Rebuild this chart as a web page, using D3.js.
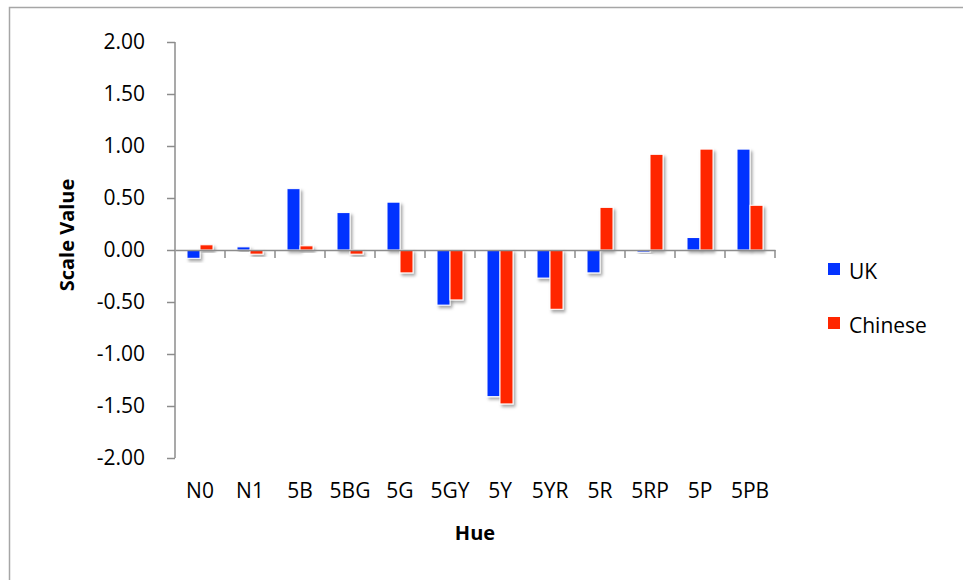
<!DOCTYPE html>
<html>
<head>
<meta charset="utf-8">
<script src="https://cdn.jsdelivr.net/npm/d3@7"></script>
<style>
  html, body { margin: 0; padding: 0; background: #fff; }
  svg { display: block; font-family: "Open Sans", "Noto Sans", sans-serif; }
</style>
</head>
<body>
<svg id="chart" width="963" height="580"></svg>
<script>
const categories = ["N0", "N1", "5B", "5BG", "5G", "5GY", "5Y", "5YR", "5R", "5RP", "5P", "5PB"];
const seriesNames = ["UK", "Chinese"];
const ukValues = [-0.08, 0.03, 0.59, 0.36, 0.46, -0.53, -1.41, -0.27, -0.22, -0.02, 0.12, 0.97];
const chineseValues = [0.05, -0.04, 0.04, -0.04, -0.22, -0.48, -1.48, -0.57, 0.41, 0.92, 0.97, 0.43];
const yTicks = [2.0, 1.5, 1.0, 0.5, 0.0, -0.5, -1.0, -1.5, -2.0];
const colors = ["#0433ff", "#ff2600"];

(function () {
const svg = d3.select("#chart");

const defs = svg.append("defs");
const f = defs.append("filter").attr("id", "shadow").attr("x", "-50%").attr("y", "-50%").attr("width", "200%").attr("height", "200%");
f.append("feDropShadow").attr("dx", 2).attr("dy", 2.5).attr("stdDeviation", 1.6)
  .attr("flood-color", "#000").attr("flood-opacity", 0.35);

svg.append("rect").attr("x", 9.5).attr("y", 7.5).attr("width", 970).attr("height", 600)
  .attr("fill", "none").attr("stroke", "#a6a6a6").attr("stroke-width", 1.5);

const pLeft = 175, pRight = 775, pTop = 42, pBottom = 458;

const x = d3.scaleBand().domain(categories).range([pLeft, pRight]).paddingInner(0).paddingOuter(0);
const y = d3.scaleLinear().domain([-2, 2]).range([pBottom, pTop]);
const groupW = 26;
const xs = d3.scaleBand().domain(seriesNames).range([0, groupW]).padding(0);

const data = categories.map((c, i) => ({ cat: c, vals: [ukValues[i], chineseValues[i]] }));

const g = svg.append("g");
data.forEach(d => {
  const cx = x(d.cat) + x.bandwidth() / 2 - groupW / 2;
  d.vals.forEach((v, j) => {
    const y0 = y(0), y1 = y(v);
    g.append("rect")
      .attr("x", cx + xs(seriesNames[j]))
      .attr("y", Math.min(y0, y1))
      .attr("width", xs.bandwidth())
      .attr("height", Math.max(1, Math.abs(y1 - y0)))
      .attr("fill", colors[j])
      .attr("stroke", "#fff")
      .attr("stroke-width", 1)
      .attr("filter", "url(#shadow)");
  });
});

const axisColor = "#8c8c8c";

const yAxis = svg.append("g").attr("transform", `translate(${pLeft},0)`)
  .call(d3.axisLeft(y).tickValues(yTicks).tickFormat(d3.format(".2f")).tickSize(8).tickPadding(22));
yAxis.select(".domain").attr("stroke", axisColor).attr("stroke-width", 1.5).attr("d", `M0,${pTop}V${pBottom}`);
yAxis.selectAll(".tick line").attr("stroke", axisColor).attr("stroke-width", 1.5);
yAxis.selectAll(".tick text").attr("font-size", 21).attr("fill", "#000")
  .attr("font-family", "'Open Sans', sans-serif").text(d => d3.format(".2f")(d).replace("−", "-"));

const xAxis = svg.append("g").attr("transform", `translate(0,${y(0)})`)
  .call(d3.axisBottom(x).tickValues([]).tickSizeOuter(0));
xAxis.select(".domain").attr("stroke", axisColor).attr("stroke-width", 1.5);
const tickPos = d3.range(categories.length + 1).map(i => pLeft + i * x.bandwidth()).slice(1);
xAxis.selectAll(".xt").data(tickPos).enter().append("line")
  .attr("x1", d => d).attr("x2", d => d).attr("y1", 0).attr("y2", 8)
  .attr("stroke", axisColor).attr("stroke-width", 1.5);

svg.append("g").selectAll("text").data(categories).enter().append("text")
  .attr("x", d => x(d) + x.bandwidth() / 2)
  .attr("y", 498)
  .attr("text-anchor", "middle")
  .attr("font-size", 21)
  .attr("fill", "#000")
  .text(d => d);

svg.append("text").attr("x", 475).attr("y", 540).attr("text-anchor", "middle")
  .attr("font-size", 20).attr("font-weight", "bold").text("Hue");
svg.append("text").attr("transform", "translate(74,235) rotate(-90)").attr("text-anchor", "middle")
  .attr("font-size", 20).attr("font-weight", "bold").text("Scale Value");

const legend = svg.append("g");
seriesNames.forEach((s, i) => {
  const ly = 263 + i * 54;
  legend.append("rect").attr("x", 828).attr("y", ly).attr("width", 12).attr("height", 12).attr("fill", colors[i]);
  legend.append("text").attr("x", 849).attr("y", ly + 16).attr("font-size", 21).attr("fill", "#000").text(s);
});
})();
</script>
</body>
</html>
